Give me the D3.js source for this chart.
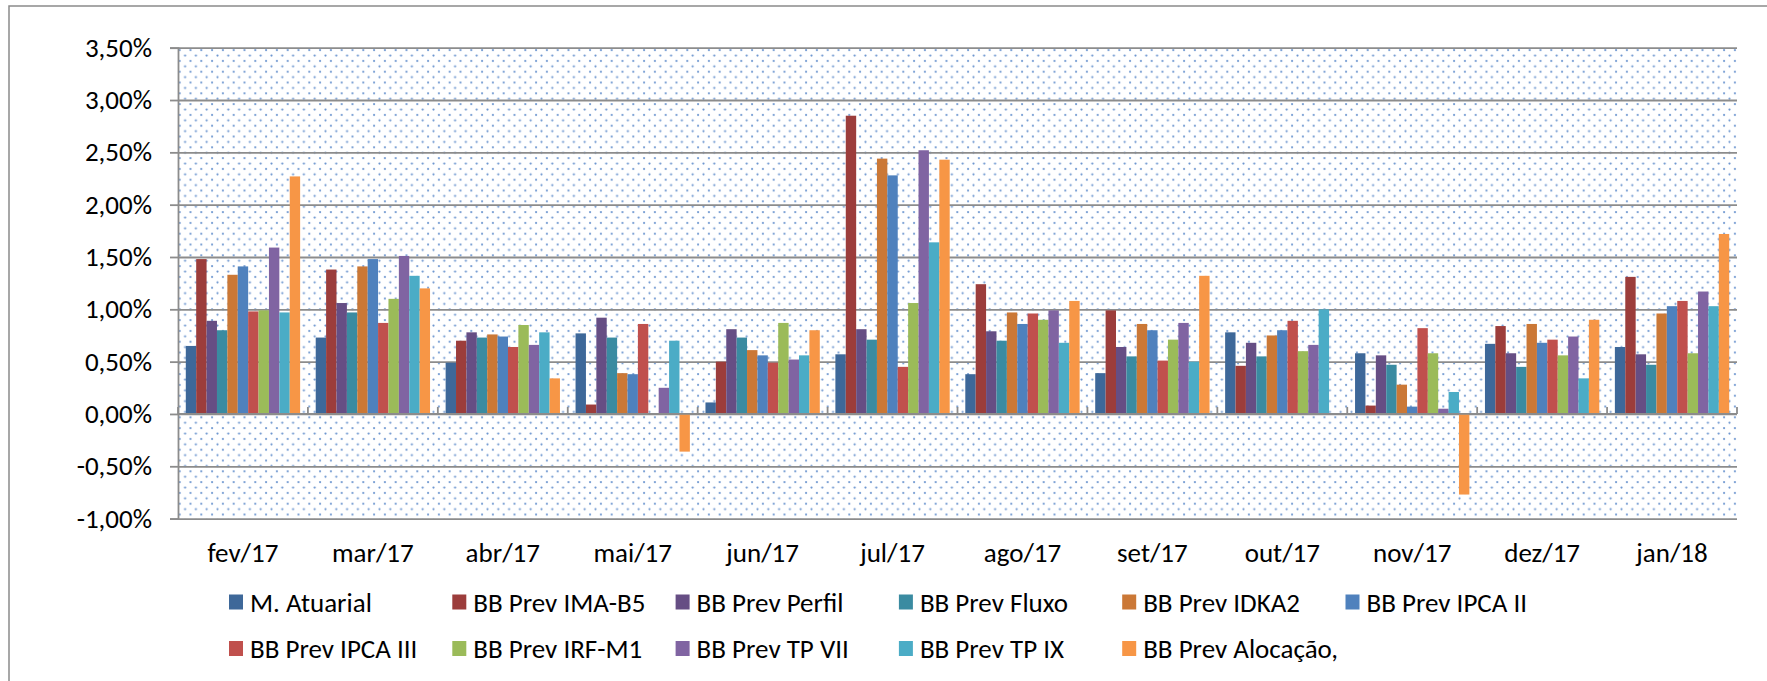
<!DOCTYPE html>
<html>
<head>
    <title>Rentabilidade mensal</title>
    <script src="https://d3js.org/d3.v7.min.js"></script>
    <style>
        body {
            margin: 0;
            padding: 0;
            background-color: #ffffff;
        }
        .chart text {
            font-family: Carlito, Calibri, Lato, sans-serif;
            font-size: 27px;
            fill: #000000;
        }
    </style>
</head>
<body>
    <div id="chart"></div>

    <script>
        // categorias (meses)
        const months = ["fev/17", "mar/17", "abr/17", "mai/17", "jun/17", "jul/17",
                        "ago/17", "set/17", "out/17", "nov/17", "dez/17", "jan/18"];

        // valores em %
        const mAtuarial   = [0.65, 0.73, 0.49, 0.77, 0.11, 0.57, 0.38, 0.39, 0.78, 0.58, 0.67, 0.64];
        const prevImaB5   = [1.48, 1.38, 0.70, 0.09, 0.50, 2.85, 1.24, 0.99, 0.46, 0.08, 0.84, 1.31];
        const prevPerfil  = [0.89, 1.06, 0.78, 0.92, 0.81, 0.81, 0.79, 0.64, 0.68, 0.56, 0.58, 0.57];
        const prevFluxo   = [0.80, 0.97, 0.73, 0.73, 0.73, 0.71, 0.70, 0.55, 0.55, 0.47, 0.45, 0.47];
        const prevIdka2   = [1.33, 1.41, 0.76, 0.39, 0.61, 2.44, 0.97, 0.86, 0.75, 0.28, 0.86, 0.96];
        const prevIpca2   = [1.41, 1.48, 0.74, 0.38, 0.56, 2.28, 0.86, 0.80, 0.80, 0.07, 0.68, 1.03];
        const prevIpca3   = [0.98, 0.87, 0.64, 0.86, 0.49, 0.45, 0.96, 0.51, 0.89, 0.82, 0.71, 1.08];
        const prevIrfM1   = [0.99, 1.10, 0.85, 0.00, 0.87, 1.06, 0.90, 0.71, 0.60, 0.58, 0.56, 0.58];
        const prevTp7     = [1.59, 1.51, 0.66, 0.25, 0.52, 2.52, 0.99, 0.87, 0.66, 0.05, 0.74, 1.17];
        const prevTp9     = [0.97, 1.32, 0.78, 0.70, 0.56, 1.64, 0.68, 0.50, 1.00, 0.21, 0.34, 1.03];
        const prevAlocacao = [2.27, 1.20, 0.34, -0.36, 0.80, 2.43, 1.08, 1.32, 0.00, -0.77, 0.90, 1.72];

        const seriesNames = ["M. Atuarial", "BB Prev IMA-B5", "BB Prev Perfil", "BB Prev Fluxo",
                             "BB Prev IDKA2", "BB Prev IPCA II", "BB Prev IPCA III", "BB Prev IRF-M1",
                             "BB Prev TP VII", "BB Prev TP IX", "BB Prev Alocação,"];
        const seriesValues = [mAtuarial, prevImaB5, prevPerfil, prevFluxo, prevIdka2, prevIpca2,
                              prevIpca3, prevIrfM1, prevTp7, prevTp9, prevAlocacao];

        const yTicks = [-1, -0.5, 0, 0.5, 1, 1.5, 2, 2.5, 3, 3.5];

        const colors = ["#3e6899", "#9c3d3b", "#664e84", "#3a8ba1", "#cb7836", "#4f81bd",
                        "#c0504d", "#9bbb59", "#8064a2", "#4bacc6", "#f79646"];

        const W = 1767, H = 681;
        const plot = {left: 178, right: 1737, top: 47.7, bottom: 518.6};

        const svg = d3.select("#chart")
            .append("svg")
                .attr("class", "chart")
                .attr("width", W)
                .attr("height", H);

        // padrão pontilhado da área de plotagem
        const defs = svg.append("defs");
        const pat = defs.append("pattern")
            .attr("id", "dots")
            .attr("patternUnits", "userSpaceOnUse")
            .attr("width", 10.8)
            .attr("height", 10.8);
        pat.append("rect").attr("width", 10.8).attr("height", 10.8).attr("fill", "#ffffff");
        pat.append("circle").attr("cx", 1.5).attr("cy", 1.5).attr("r", 1.1).attr("fill", "#6b95cf");
        pat.append("circle").attr("cx", 6.9).attr("cy", 6.9).attr("r", 1.1).attr("fill", "#6b95cf");

        // moldura externa
        svg.append("rect")
            .attr("x", 9)
            .attr("y", 6)
            .attr("width", 1900)
            .attr("height", 900)
            .attr("fill", "none")
            .attr("stroke", "#8a8a8a")
            .attr("stroke-width", 1.5);

        const x0 = d3.scaleBand()
            .domain(months)
            .range([plot.left, plot.right])
            .padding(0);

        const x1 = d3.scaleBand()
            .domain(d3.range(seriesNames.length))
            .range([0, x0.bandwidth()])
            .paddingInner(0)
            .paddingOuter(0.75);

        const y = d3.scaleLinear()
            .domain([-1, 3.5])
            .range([plot.bottom, plot.top]);

        svg.append("rect")
            .attr("x", plot.left)
            .attr("y", plot.top)
            .attr("width", plot.right - plot.left)
            .attr("height", plot.bottom - plot.top)
            .attr("fill", "url(#dots)");

        // linhas de grade
        svg.append("g")
            .attr("transform", "translate(" + plot.left + ",0)")
            .call(d3.axisLeft(y).tickValues(yTicks).tickSize(-(plot.right - plot.left)).tickFormat(""))
            .call(g => g.select(".domain").remove())
            .selectAll("line")
                .attr("stroke", "#8c8c8c")
                .attr("stroke-width", 1.8);

        // barras
        seriesValues.forEach(function(vals, i) {
            svg.append("g")
                .selectAll("rect")
                .data(vals)
                .enter().append("rect")
                    .attr("x", (d, j) => x0(months[j]) + x1(i))
                    .attr("y", d => y(Math.max(0, d)))
                    .attr("width", x1.bandwidth())
                    .attr("height", d => Math.abs(y(d) - y(0)))
                    .attr("fill", colors[i]);
        });

        // eixo vertical com rótulos (hífen comum, vírgula decimal)
        const yAxis = svg.append("g")
            .attr("transform", "translate(" + plot.left + ",0)")
            .call(d3.axisLeft(y).tickValues(yTicks).tickSize(8).tickPadding(18)
                .tickFormat(d => d.toFixed(2).replace(".", ",") + "%"));
        yAxis.select(".domain").attr("stroke", "#8c8c8c").attr("stroke-width", 1.8);
        yAxis.selectAll(".tick line").attr("stroke", "#8c8c8c").attr("stroke-width", 1.8);
        yAxis.selectAll("text").attr("font-size", null).attr("font-family", null);

        // eixo horizontal em zero, marcas nas divisões
        svg.append("line")
            .attr("x1", plot.left).attr("x2", plot.right)
            .attr("y1", y(0)).attr("y2", y(0))
            .attr("stroke", "#8c8c8c")
            .attr("stroke-width", 1.8);

        const bounds = months.map(m => x0(m)).concat([x0.range()[1]]);
        svg.append("g")
            .selectAll("line")
            .data(bounds)
            .enter().append("line")
                .attr("x1", d => d).attr("x2", d => d)
                .attr("y1", y(0)).attr("y2", y(0) - 7)
                .attr("stroke", "#8c8c8c")
                .attr("stroke-width", 1.8);

        // rótulos das categorias
        const xAxis = svg.append("g")
            .attr("transform", "translate(0," + plot.bottom + ")")
            .call(d3.axisBottom(x0).tickSize(0).tickPadding(24));
        xAxis.select(".domain").remove();
        xAxis.selectAll("text").attr("font-size", null).attr("font-family", null);

        // legenda
        const legend = svg.append("g");
        seriesNames.forEach(function(name, i) {
            const lx = 229 + (i % 6) * 223.3;
            const ly = 602 + Math.floor(i / 6) * 46.5;
            legend.append("rect")
                .attr("x", lx)
                .attr("y", ly - 7.5)
                .attr("width", 14)
                .attr("height", 15)
                .attr("fill", colors[i]);
            legend.append("text")
                .attr("x", lx + 21)
                .attr("y", ly)
                .attr("dy", "0.36em")
                .text(name);
        });
    </script>
</body>
</html>
